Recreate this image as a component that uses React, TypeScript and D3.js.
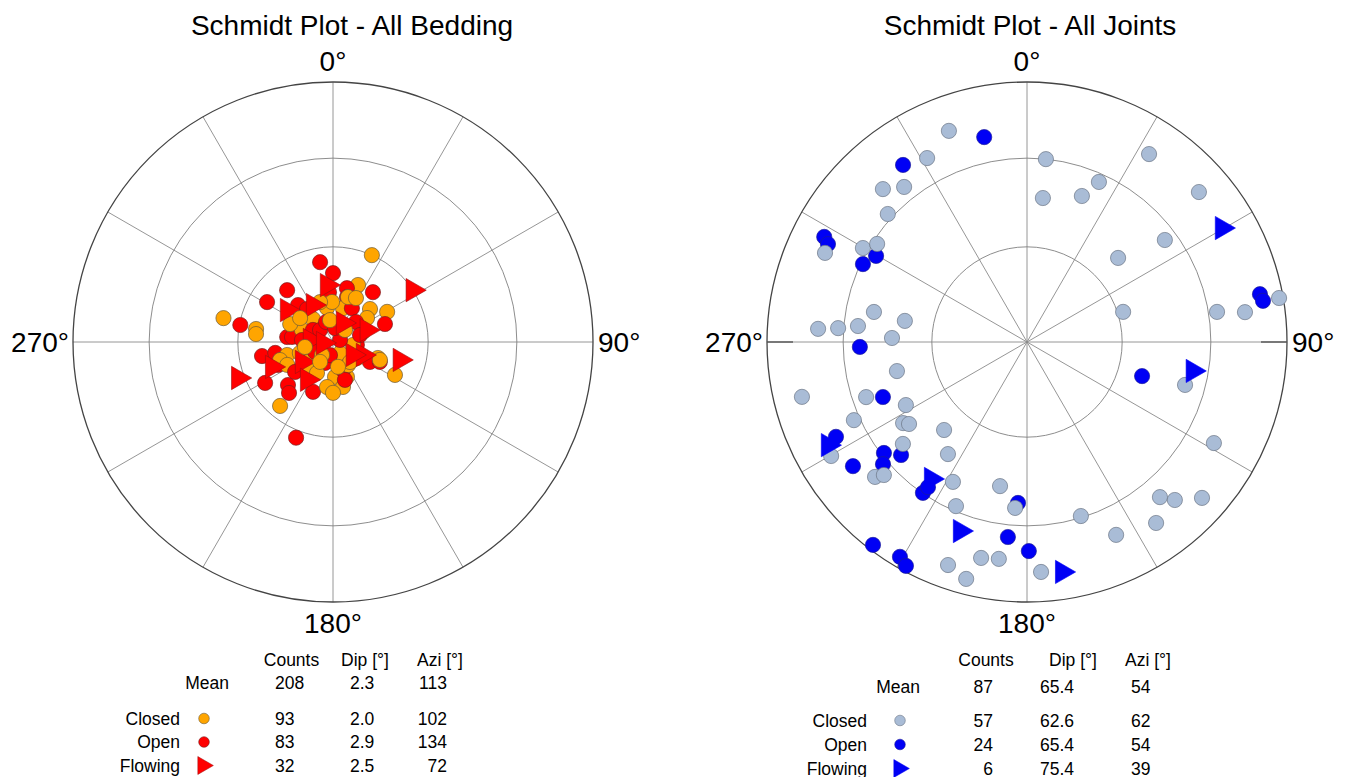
import React from "react";
import * as d3 from "d3";

// ---------- DATA (azimuth °, dip °) ----------
const beddingClosed: [number, number][] = [
  [24.1, 30.0], [282.3, 35.5], [279.6, 24.5], [275.9, 24.3], [219.6, 26.1], [118.0, 22.0], [109.6, 14.9],
  [60.9, 19.4], [48.3, 15.5], [23.7, 19.5], [71.6, 9.9], [176.7, 10.9], [167.5, 14.4], [187.6, 14.2],
  [180.0, 15.9], [158.2, 11.7], [147.5, 4.1], [350.0, 10.8], [16.4, 11.0], [358.6, 12.5], [342.0, 13.1],
  [319.0, 9.5], [291.2, 10.4], [292.7, 14.5], [254.2, 14.9], [251.2, 17.5], [251.6, 10.9], [231.3, 10.0],
  [266.2, 4.7], [98.5, 6.3], [54.8, 13.0], [18.4, 14.8], [219.4, 11.3], [207.3, 10.9], [243.4, 16.0],
  [146.9, 8.6], [123.7, 9.0], [110.9, 15.7], [220.2, 5.3],
  [352.2, 6.9], [45.0, 5.3], [213.0, 7.4], [139.6, 8.2], [259.9, 8.9], [168.7, 7.9], [27.6, 15.5], [306.0, 12.7],
];
const beddingOpen: [number, number][] = [
  [350.8, 25.4], [0.0, 21.6], [318.5, 21.7], [301.2, 24.2], [280.4, 29.7], [258.8, 22.7], [238.9, 24.9],
  [226.3, 19.5], [220.8, 21.1], [201.8, 16.8], [201.1, 32.4], [38.7, 20.0], [70.9, 17.2], [118.4, 13.1],
  [113.0, 15.9], [14.5, 17.4], [17.3, 14.7], [355.4, 15.6], [316.6, 15.9], [321.8, 13.1], [276.2, 14.4],
  [277.0, 12.9], [259.3, 18.4], [247.3, 18.6], [200.9, 7.0], [160.3, 9.3], [97.1, 7.5], [29.2, 12.1],
  [273.7, 9.7], [301.0, 7.3], [74.1, 2.3], [312.7, 5.5], [340.7, 6.6], [49.0, 9.5], [193.0, 4.2],
  [8.1, 4.4], [241.0, 6.4], [75.5, 8.7], [162.5, 12.4], [231.7, 15.1],
];
const beddingFlowing: [number, number][] = [
  [57.0, 30.0], [105.0, 21.7], [249.2, 32.0], [354.0, 17.9], [304.8, 17.5], [331.6, 13.1], [247.7, 20.6],
  [237.2, 11.5], [214.4, 14.3], [275.0, 7.2], [27.8, 6.7], [70.6, 11.2], [113.4, 10.2], [264.3, 3.1],
  [123.0, 7.4],
];

const jointsClosed: [number, number][] = [
  [339.7, 75.5], [331.5, 69.4], [316.7, 69.7], [321.6, 65.1], [312.6, 61.9], [293.8, 73.8], [299.8, 61.9],
  [303.2, 58.3], [281.1, 50.2], [279.8, 39.4], [273.6, 69.4], [274.2, 62.0], [275.4, 55.0], [271.7, 43.1],
  [5.9, 60.0], [33.0, 75.1], [24.2, 57.0], [20.6, 50.2], [6.3, 46.4], [48.9, 76.7], [53.5, 55.6],
  [47.3, 39.4], [72.6, 31.8], [81.0, 63.1], [82.2, 73.5], [80.1, 88.2],
  [257.4, 42.5], [256.3, 78.1], [251.1, 55.1], [242.5, 43.6], [245.7, 62.2], [236.8, 47.5], [235.2, 46.0],
  [223.3, 38.4], [230.6, 51.8], [215.2, 43.8], [239.8, 76.1], [228.4, 67.1], [227.1, 64.2], [207.9, 51.0],
  [190.6, 47.0], [203.4, 58.2], [184.1, 53.8], [199.5, 80.1], [192.0, 73.8], [187.4, 73.0], [194.4, 83.4],
  [105.2, 52.9], [118.4, 70.6], [139.4, 67.5], [136.9, 72.1], [131.7, 79.2], [144.5, 74.4], [162.8, 59.4],
  [155.2, 70.6], [176.5, 77.6],
];
const jointsOpen: [number, number][] = [
  [348.2, 69.4], [325.0, 72.0], [297.4, 76.8], [296.2, 74.2], [299.7, 56.4], [295.4, 59.2], [268.3, 54.1],
  [78.4, 80.6], [80.1, 81.3], [249.1, 49.6], [243.6, 70.9], [232.2, 59.0], [228.1, 54.8], [234.5, 71.1],
  [229.7, 61.8], [214.6, 59.8], [183.2, 52.0], [185.6, 64.4], [179.5, 69.3], [217.2, 87.7], [210.6, 85.5],
  [208.4, 87.6], [106.5, 38.1], [214.3, 57.1],
];
const jointsFlowing: [number, number][] = [
  [59.7, 75.8], [242.6, 75.1], [215.0, 54.1], [199.5, 66.1], [99.9, 54.5], [171.3, 78.5],
];

const directionLabels = ["0°", "90°", "180°", "270°"];
const statHeaders = ["Counts", "Dip [°]", "Azi [°]"];
const classNames = ["Closed", "Open", "Flowing"];
const beddingMean = ["208", "2.3", "113"];
const beddingStats = [["93", "2.0", "102"], ["83", "2.9", "134"], ["32", "2.5", "72"]];
const jointsMean = ["87", "65.4", "54"];
const jointsStats = [["57", "62.6", "62"], ["24", "65.4", "54"], ["6", "75.4", "39"]];
const ringDips = [30, 60, 90];
const spokeAzimuths = d3.range(0, 360, 30);

// ---------- GEOMETRY ----------
const W = 1347, H = 777, R = 260;
const FONT = "'Liberation Sans', Arial, Helvetica, sans-serif";
const rScale = d3.scaleSqrt().domain([0, 1]).range([0, R]); // equal-area: r = R*sqrt(1-cos(dip))
const aScale = d3.scaleLinear().domain([0, 360]).range([0, 2 * Math.PI]);
const radiusOf = (dip: number) => rScale(1 - Math.cos((dip * Math.PI) / 180));
const project = ([azi, dip]: [number, number]) => d3.pointRadial(aScale(azi), radiusOf(dip));
const triPath = d3.symbol(d3.symbolTriangle, 235)() as string;
const triLegend = d3.symbol(d3.symbolTriangle, 140)() as string;

type Style = { closed: string; closedStroke: string; open: string; openStroke: string; flow: string; flowStroke: string };

// closed & open interleaved, flowing mixed into the later part of the draw order
function interleave(a: [number, number][], b: [number, number][], c: [number, number][]) {
  const out: { kind: number; d: [number, number] }[] = [];
  const n = Math.max(a.length, b.length);
  for (let i = 0; i < n; i++) {
    if (a[i]) out.push({ kind: 0, d: a[i] });
    if (b[i]) out.push({ kind: 1, d: b[i] });
    const j = i - (n - c.length);
    if (j >= 0 && c[j]) out.push({ kind: 2, d: c[j] });
  }
  return out;
}

function Net(props: {
  cx: number; cy: number; title: string; titleX: number;
  closed: [number, number][]; open: [number, number][]; flowing: [number, number][];
  st: Style; ticks?: boolean;
}) {
  const { cx, cy, title, titleX, closed, open, flowing, st, ticks } = props;
  const pts = interleave(closed, open, flowing);
  return (
    <g>
      <text x={titleX} y={35} textAnchor="middle" fontSize={28} fontFamily={FONT}>{title}</text>
      <g transform={`translate(${cx},${cy})`}>
        {spokeAzimuths.map((a) => {
          const [x, y] = d3.pointRadial(aScale(a), R);
          return <line key={a} x1={0} y1={0} x2={x} y2={y} stroke="#8a8a8a" strokeWidth={0.9} />;
        })}
        {ringDips.map((d) => (
          <circle key={d} r={radiusOf(d)} fill="none" stroke={d === 90 ? "#444" : "#808080"} strokeWidth={d === 90 ? 1.3 : 0.9} />
        ))}
        {ticks && [90, 270].map((a) => {
          const [x1, y1] = d3.pointRadial(aScale(a), R - 26);
          const [x2, y2] = d3.pointRadial(aScale(a), R);
          return <line key={a} x1={x1} y1={y1} x2={x2} y2={y2} stroke="#555" strokeWidth={1.4} />;
        })}
        {pts.map((p, i) => {
          const [x, y] = project(p.d);
          if (p.kind === 2)
            return <path key={i} d={triPath} transform={`translate(${x},${y}) rotate(90)`} fill={st.flow} stroke={st.flowStroke} strokeWidth={0.6} />;
          return (
            <circle key={i} cx={x} cy={y} r={7.6}
              fill={p.kind === 0 ? st.closed : st.open}
              stroke={p.kind === 0 ? st.closedStroke : st.openStroke} strokeWidth={0.7} />
          );
        })}
        <text x={0} y={-R - 11} textAnchor="middle" fontSize={28} fontFamily={FONT}>{directionLabels[0]}</text>
        <text x={R + 5} y={10} textAnchor="start" fontSize={28} fontFamily={FONT}>{directionLabels[1]}</text>
        <text x={0} y={R + 31} textAnchor="middle" fontSize={28} fontFamily={FONT}>{directionLabels[2]}</text>
        <text x={-R - 4} y={10} textAnchor="end" fontSize={28} fontFamily={FONT}>{directionLabels[3]}</text>
      </g>
    </g>
  );
}

function Table(props: {
  headerX: number[]; meanX: number; labelX: number; markerX: number;
  rowsY: number[]; mean: string[]; stats: string[][];
  valX: number[]; valAnchor: ("start" | "end" | "middle")[]; st: Style;
}) {
  const { headerX, meanX, labelX, markerX, rowsY, mean, stats, valX, valAnchor, st } = props;
  const fs = 17.5;
  return (
    <g fontFamily={FONT} fontSize={fs}>
      {statHeaders.map((h, i) => (
        <text key={h} x={headerX[i]} y={rowsY[0]} textAnchor="middle">{h}</text>
      ))}
      <text x={meanX} y={rowsY[1]} textAnchor="end">Mean</text>
      {mean.map((v, i) => (
        <text key={i} x={valX[i]} y={rowsY[1]} textAnchor={valAnchor[i]}>{v}</text>
      ))}
      {classNames.map((c, r) => (
        <g key={c}>
          <text x={labelX} y={rowsY[2 + r]} textAnchor="end">{c}</text>
          {r < 2 ? (
            <circle cx={markerX} cy={rowsY[2 + r] - 6} r={5.3}
              fill={r === 0 ? st.closed : st.open} stroke={r === 0 ? st.closedStroke : st.openStroke} strokeWidth={0.6} />
          ) : (
            <path d={triLegend} transform={`translate(${markerX - 1},${rowsY[2 + r] - 6}) rotate(90)`} fill={st.flow} stroke={st.flowStroke} strokeWidth={0.5} />
          )}
          {stats[r].map((v, i) => (
            <text key={i} x={valX[i]} y={rowsY[2 + r]} textAnchor={valAnchor[i]}>{v}</text>
          ))}
        </g>
      ))}
    </g>
  );
}

const warm: Style = { closed: "#FFA500", closedStroke: "#6b5a3a", open: "#FF0000", openStroke: "#7a2020", flow: "#FF0000", flowStroke: "#9a1010" };
const cool: Style = { closed: "#A9BCD6", closedStroke: "#6b7585", open: "#0000F5", openStroke: "#1a1a9a", flow: "#0000F5", flowStroke: "#0000F5" };

export default function App() {
  return (
    <svg width={W} height={H} style={{ position: "absolute", left: 0, top: 0, background: "#fff" }}>
      <rect width={W} height={H} fill="#fff" />
      <Net cx={333} cy={342} title="Schmidt Plot - All Bedding" titleX={352}
        closed={beddingClosed} open={beddingOpen} flowing={beddingFlowing} st={warm} />
      <Net cx={1027} cy={342} title="Schmidt Plot - All Joints" titleX={1030}
        closed={jointsClosed} open={jointsOpen} flowing={jointsFlowing} st={cool} ticks />
      <Table headerX={[291.5, 365, 440]} meanX={229} labelX={180} markerX={204}
        rowsY={[666, 689, 724.5, 748, 771.5]} mean={beddingMean} stats={beddingStats}
        valX={[275, 350, 447]} valAnchor={["start", "start", "end"]} st={warm} />
      <Table headerX={[986, 1073, 1148]} meanX={920} labelX={867} markerX={900}
        rowsY={[666, 693, 726.5, 750.5, 774.5]} mean={jointsMean} stats={jointsStats}
        valX={[993, 1040, 1131]} valAnchor={["end", "start", "start"]} st={cool} />
    </svg>
  );
}
